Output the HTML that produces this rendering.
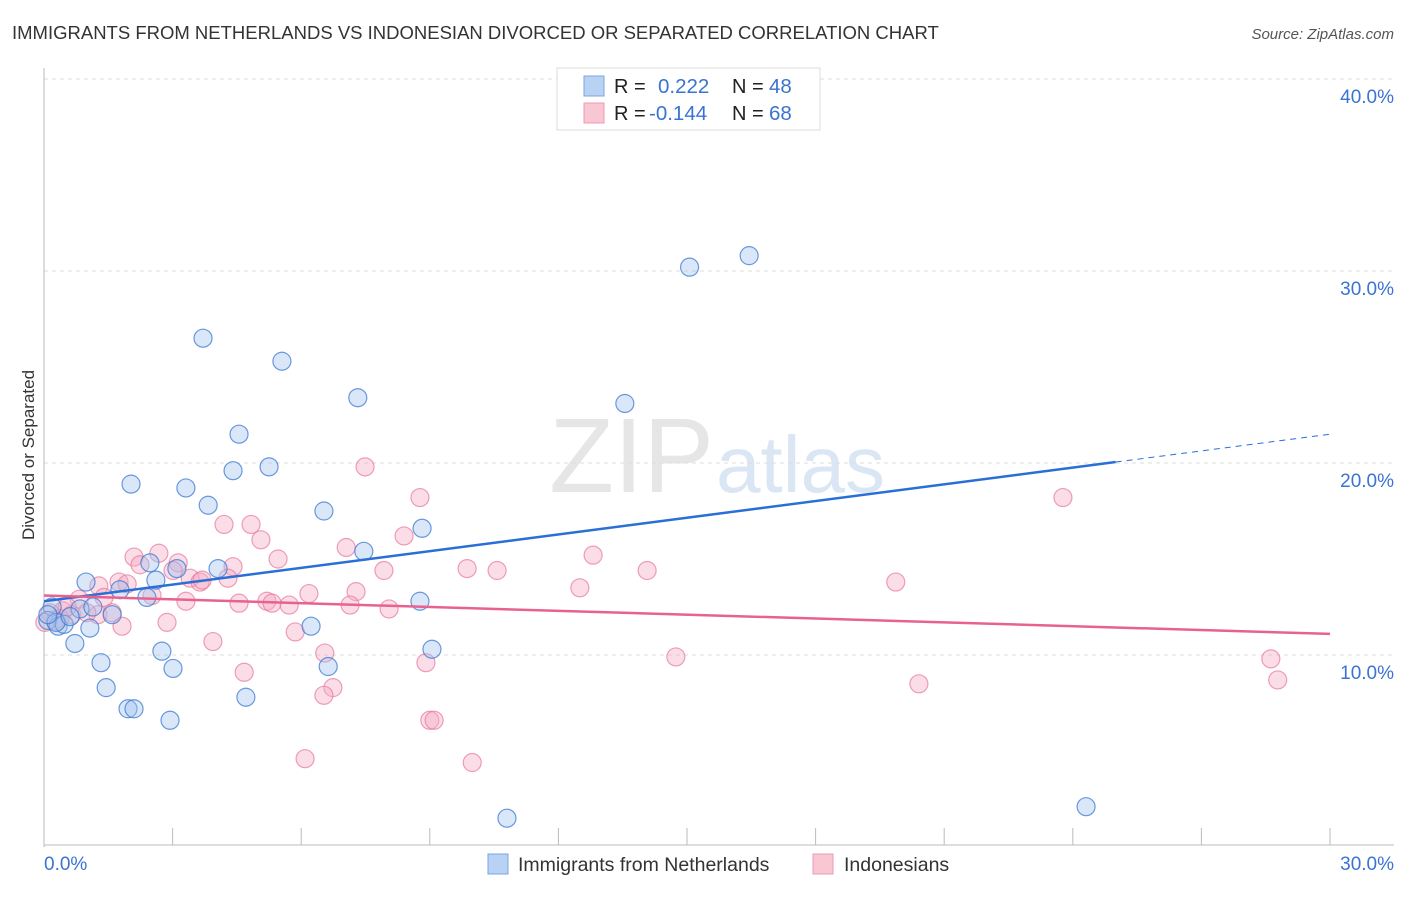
<!DOCTYPE html>
<html><head><meta charset="utf-8"><style>
body{margin:0;background:#fff;font-family:"Liberation Sans",sans-serif;}
svg text{font-family:"Liberation Sans",sans-serif;}
</style></head><body>
<svg id="chart" width="1406" height="892">
<text x="12" y="39" font-size="18.5" fill="#333">IMMIGRANTS FROM NETHERLANDS VS INDONESIAN DIVORCED OR SEPARATED CORRELATION CHART</text>
<text x="1394" y="39" font-size="15" fill="#555" text-anchor="end" font-style="italic">Source: ZipAtlas.com</text>
<text x="34" y="455" font-size="17" fill="#333" text-anchor="middle" transform="rotate(-90 34 455)">Divorced or Separated</text>
<text x="714" y="492" font-size="106" fill="#e6e6e6" text-anchor="end" font-family="Liberation Serif">ZIP</text>
<text x="716" y="492" font-size="80" fill="#dbe6f5">atlas</text>
<g id="grid"></g><g id="axes"></g><g id="pts"></g><g id="lines"></g>
<g>
<rect x="557" y="68" width="263" height="62" fill="#fff" stroke="#ddd"/>
<rect x="584" y="76" width="20" height="20" fill="#b8d2f4" stroke="#7aa6e0"/>
<rect x="584" y="103" width="20" height="20" fill="#f9c6d4" stroke="#ee99b1"/>
<text x="614" y="93" font-size="20" fill="#222">R = </text><text x="658" y="93" font-size="20.5" fill="#3a74d0">0.222</text>
<text x="732" y="93" font-size="20" fill="#222">N = </text><text x="769" y="93" font-size="20.5" fill="#3a74d0">48</text>
<text x="614" y="120" font-size="20" fill="#222">R = </text><text x="649" y="120" font-size="20.5" fill="#3a74d0">-0.144</text>
<text x="732" y="120" font-size="20" fill="#222">N = </text><text x="769" y="120" font-size="20.5" fill="#3a74d0">68</text>
</g>
<g>
<rect x="488" y="854" width="20" height="20" fill="#b8d2f4" stroke="#7aa6e0"/>
<text x="518" y="871" font-size="19.5" fill="#333">Immigrants from Netherlands</text>
<rect x="813" y="854" width="20" height="20" fill="#f9c6d4" stroke="#ee99b1"/>
<text x="844" y="871" font-size="19.5" fill="#333">Indonesians</text>
</g>
</svg>
<script>
const yTicks=[10,20,30,40];
const xTickLabels=["0.0%","30.0%"];
const blueX=[15.06,16.45,3.71,5.55,7.32,13.55,4.55,5.25,4.41,2.03,3.31,3.83,6.53,8.82,7.46,2.47,3.1,4.06,0.98,2.61,1.77,2.4,0.84,1.14,1.59,0.19,0.09,0.33,0.47,1.07,0.72,8.77,6.23,2.75,9.05,1.33,3.01,6.63,1.45,4.71,1.96,2.1,2.94,24.31,10.8,0.28,0.61,0.09];
const blueY=[30.2,30.8,26.5,25.3,23.4,23.1,21.5,19.8,19.6,18.9,18.7,17.8,17.5,16.6,15.4,14.8,14.5,14.5,13.8,13.9,13.4,13.0,12.4,12.5,12.1,12.5,11.8,11.5,11.6,11.4,10.6,12.8,11.5,10.2,10.3,9.6,9.3,9.4,8.3,7.8,7.2,7.2,6.6,2.1,1.5,11.7,12.0,12.1];
const pinkX=[7.49,8.77,23.77,4.2,4.83,5.06,8.4,7.05,2.1,2.68,3.13,5.46,4.41,12.81,9.87,10.57,7.93,14.07,2.24,3.01,3.41,3.64,4.29,3.69,1.75,1.94,1.28,19.87,12.5,7.28,6.18,2.52,1.4,0.82,3.31,4.55,5.2,5.32,5.72,7.14,8.05,0.44,0.14,0.65,0.37,1.26,2.87,1.82,5.86,3.94,6.55,14.74,28.62,4.67,8.91,6.74,6.53,20.41,28.78,9.0,9.1,6.09,9.99,1.0,0.54,0.26,0.02,1.59];
const pinkY=[19.8,18.2,18.2,16.8,16.8,16.0,16.2,15.6,15.1,15.3,14.8,15.0,14.6,15.2,14.5,14.4,14.4,14.4,14.7,14.4,14.0,13.8,14.0,13.9,13.8,13.7,13.6,13.8,13.5,13.3,13.2,13.1,13.0,12.9,12.8,12.7,12.8,12.7,12.6,12.6,12.4,12.3,12.2,12.1,11.9,12.1,11.7,11.5,11.2,10.7,10.1,9.9,9.8,9.1,9.6,8.3,7.9,8.5,8.7,6.6,6.6,4.6,4.4,12.2,12.5,11.8,11.7,12.2];
const blueTrend=[0,12.8,25,20.05,30,21.5];
const pinkTrend=[0,13.1,30,11.1];
const X=v=>44+v/30*1286, Y=v=>847-v*19.2;
const NS="http://www.w3.org/2000/svg";
function mk(t,a,p){const e=document.createElementNS(NS,t);for(const k in a)e.setAttribute(k,a[k]);p.appendChild(e);return e;}
const grid=document.getElementById('grid'),axes=document.getElementById('axes'),pts=document.getElementById('pts'),lines=document.getElementById('lines');
yTicks.forEach(t=>{const l=mk('line',{x1:44,x2:1394,y1:Y(t),y2:Y(t),stroke:'#ddd','stroke-dasharray':'4,4'},grid);


const tx=mk('text',{x:1394,y:Y(t)+24,'font-size':19,fill:'#3a74d0','text-anchor':'end'},axes);tx.textContent=t.toFixed(1)+'%';

});
const yl=mk('line',{x1:44,x2:44,y1:68,y2:847,stroke:'#bbb'},axes);


const xl=mk('line',{x1:44,x2:1394,y1:845,y2:845,stroke:'#bbb'},axes);


for(let i=1;i<=10;i++){const tk=mk('line',{x1:X(i*3),x2:X(i*3),y1:828,y2:845,stroke:'#bbb'},axes);

}
[[0,44,'start'],[30,1394,'end']].forEach((d,i)=>{const tx=mk('text',{x:d[1],y:870,'font-size':19,fill:'#3a74d0','text-anchor':d[2]},axes);tx.textContent=xTickLabels[i];

});
pinkX.forEach((v,i)=>{const c=mk('circle',{cx:X(v),cy:Y(pinkY[i]),r:9,fill:'rgba(246,170,195,0.4)',stroke:'rgba(232,120,155,0.7)','stroke-width':1.2},pts);

});
blueX.forEach((v,i)=>{const c=mk('circle',{cx:X(v),cy:Y(blueY[i]),r:9,fill:'rgba(160,195,240,0.4)',stroke:'rgba(60,120,210,0.75)','stroke-width':1.2},pts);

});
const b1=mk('line',{x1:X(blueTrend[0]),y1:Y(blueTrend[1]),x2:X(blueTrend[2]),y2:Y(blueTrend[3]),stroke:'#2a6fd6','stroke-width':2.5},lines);


const b2=mk('line',{x1:X(blueTrend[2]),y1:Y(blueTrend[3]),x2:X(blueTrend[4]),y2:Y(blueTrend[5]),stroke:'#2a6fd6','stroke-width':1,'stroke-dasharray':'6,5'},lines);


const p1=mk('line',{x1:X(pinkTrend[0]),y1:Y(pinkTrend[1]),x2:X(pinkTrend[2]),y2:Y(pinkTrend[3]),stroke:'#e8628f','stroke-width':2.5},lines);


</script>
</body></html>
